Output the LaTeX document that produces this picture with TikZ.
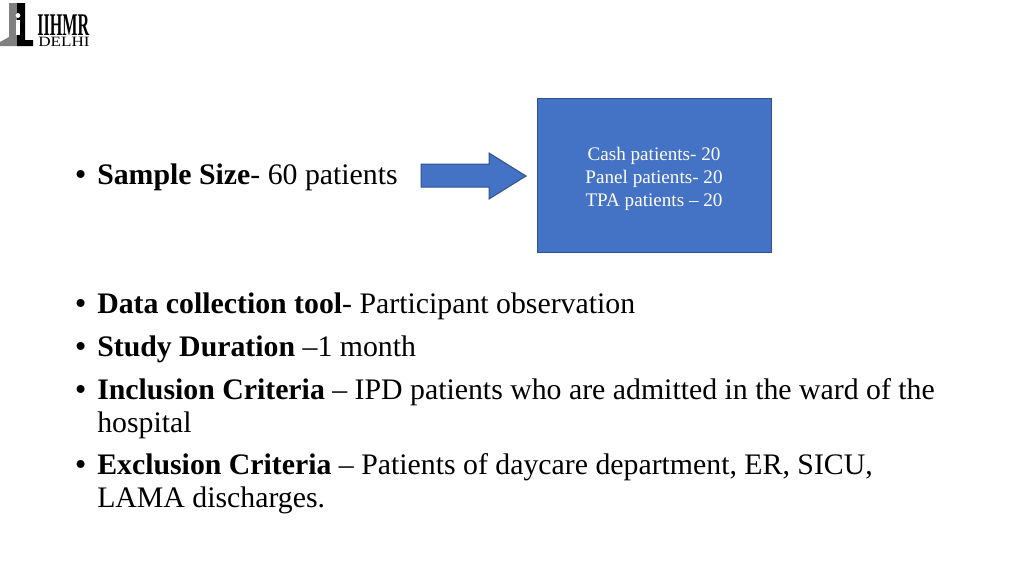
\documentclass[tikz,border=0pt]{standalone}
\usepackage{fontspec}
\setmainfont{Liberation Serif}
\definecolor{fillblue}{HTML}{4472C4}
\definecolor{edgeblue}{HTML}{2F528F}
\tikzset{
  x=0.75pt,y=-0.75pt,
  bodytext/.style={anchor=base west,inner sep=0pt,font=\fontsize{22.35}{22.35}\selectfont,text=black},
  bullet/.style={anchor=base west,inner sep=0pt,font=\fontsize{25}{25}\selectfont,text=black},
  shapeblue/.style={fill=fillblue,draw=edgeblue,line width=0.75pt},
  boxline/.style={inner sep=0pt,font=\fontsize{14.35}{14.35}\selectfont,text=white,anchor=base},
  logotext/.style={inner sep=0pt,anchor=base west}
}
\begin{document}
\begin{tikzpicture}
\useasboundingbox (0,0) rectangle (1024,576);
\fill[white] (0,0) rectangle (1024,576);
% logo
\fill[black!50] (9,3) -- (18,3) -- (18,46) -- (0,46) -- (0,42) -- (9,37) -- cycle;
\fill[black] (17,3) -- (25,3) -- (25,40) -- (33,40) -- (33,46) -- (17,46) -- cycle;
\fill[white] (16,20) -- (20,20) -- (20,35) -- (16,35) -- cycle;
\fill[white] (18,15.5) circle (2.4);
\node[logotext] (logoa) at (37,35) {\resizebox{39pt}{15.5pt}{\textbf{IIHMR}}};
\node[logotext] (logob) at (38,46) {\resizebox{38.5pt}{7pt}{DELHI}};
% arrow and box
\draw[shapeblue] (421,164) -- (489,164) -- (489,153) -- (526,176) -- (489,199) -- (489,187) -- (421,187) -- cycle;
\draw[shapeblue] (537.5,98.5) rectangle (771,252);
\node[boxline] (c1) at (654,160) {Cash patients- 20};
\node[boxline] (c2) at (654,183) {Panel patients- 20};
\node[boxline] (c3) at (654,206) {TPA patients – 20};
% text
\node[bullet] (b1) at (74.5,185) {•};
\node[bodytext] (t1) at (97,184.2) {\textbf{Sample Size}- 60 patients};
\node[bullet] (b2) at (74.5,314) {•};
\node[bodytext] (t2) at (97,313.2) {\textbf{Data collection tool}- Participant observation};
\node[bullet] (b3) at (74.5,357) {•};
\node[bodytext] (t3) at (97,356.2) {\textbf{Study Duration} –1 month};
\node[bullet] (b4) at (74.5,400) {•};
\node[bodytext] (t4) at (97,399.2) {\textbf{Inclusion Criteria} – IPD patients who are admitted in the ward of the};
\node[bodytext] (t4b) at (97,432.2) {hospital};
\node[bullet] (b5) at (74.5,475) {•};
\node[bodytext] (t5) at (97,474.2) {\textbf{Exclusion Criteria} – Patients of daycare department, ER, SICU,};
\node[bodytext] (t5b) at (97,507.2) {LAMA discharges.};
\end{tikzpicture}
\end{document}
